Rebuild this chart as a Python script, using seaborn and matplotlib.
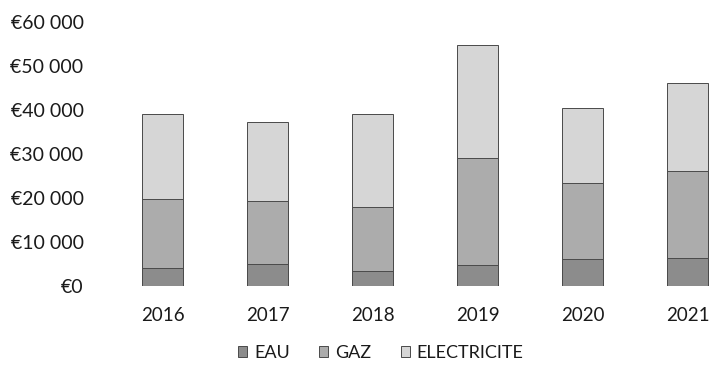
import matplotlib
matplotlib.use("Agg")
import matplotlib.pyplot as plt
import seaborn as sns
import numpy as np
import pandas as pd

# Annual utility costs (EUR), split by energy type
years = ["2016", "2017", "2018", "2019", "2020", "2021"]
eau = [4100, 5000, 3500, 4800, 6100, 6400]
gaz = [15700, 14400, 14400, 24400, 17200, 19800]
electricite = [19200, 17900, 21300, 25600, 17200, 20000]
y_ticks = [0, 10000, 20000, 30000, 40000, 50000, 60000]

series_names = ["EAU", "GAZ", "ELECTRICITE"]
colors = {"EAU": "#8c8c8c", "GAZ": "#acacac", "ELECTRICITE": "#d6d6d6"}

df = pd.DataFrame({"year": years, "EAU": eau, "GAZ": gaz, "ELECTRICITE": electricite})
# cumulative heights so each layer sits on the one below
df["cum_EAU"] = df["EAU"]
df["cum_GAZ"] = df["cum_EAU"] + df["GAZ"]
df["cum_ELECTRICITE"] = df["cum_GAZ"] + df["ELECTRICITE"]

sns.set_theme(style="white")
plt.rcParams["font.family"] = ["Lato", "DejaVu Sans"]

W, H = 712, 376
fig = plt.figure(figsize=(W / 100, H / 100), dpi=100)
# plot area runs slightly past the right edge of the canvas
ax = fig.add_axes([110 / W, 90 / H, 630 / W, 264 / H])

# tallest layer first, shorter layers drawn on top
for name in reversed(series_names):
    sns.barplot(data=df, x="year", y=f"cum_{name}", color=colors[name],
                width=0.39, edgecolor="#4a4a4a", linewidth=0.7,
                saturation=1, ax=ax, label=name)

ax.set_xlim(-0.5, 5.5)
ax.set_ylim(0, 60000)
ax.set_yticks(y_ticks)
ax.set_yticklabels([("€" + f"{v:,.0f}".replace(",", " ")) for v in y_ticks])
ax.set_xlabel("")
ax.set_ylabel("")
ax.tick_params(axis="y", length=0, pad=19, labelsize=14, labelcolor="#1a1a1a")
ax.tick_params(axis="x", length=0, pad=15, labelsize=13.5, labelcolor="#1a1a1a")
for s in ax.spines.values():
    s.set_visible(False)
ax.grid(False)

handles, labels = ax.get_legend_handles_labels()
order = [labels.index(n) for n in series_names]
ax.legend([handles[i] for i in order], series_names, loc="center",
          bbox_to_anchor=(381 / W, 1 - 353 / H), bbox_transform=fig.transFigure,
          ncol=3, frameon=False, fontsize=13, handlelength=0.5, handleheight=0.5,
          handletextpad=0.4, columnspacing=1.6, labelcolor="#1a1a1a")

fig.savefig("out.png", dpi=100)
